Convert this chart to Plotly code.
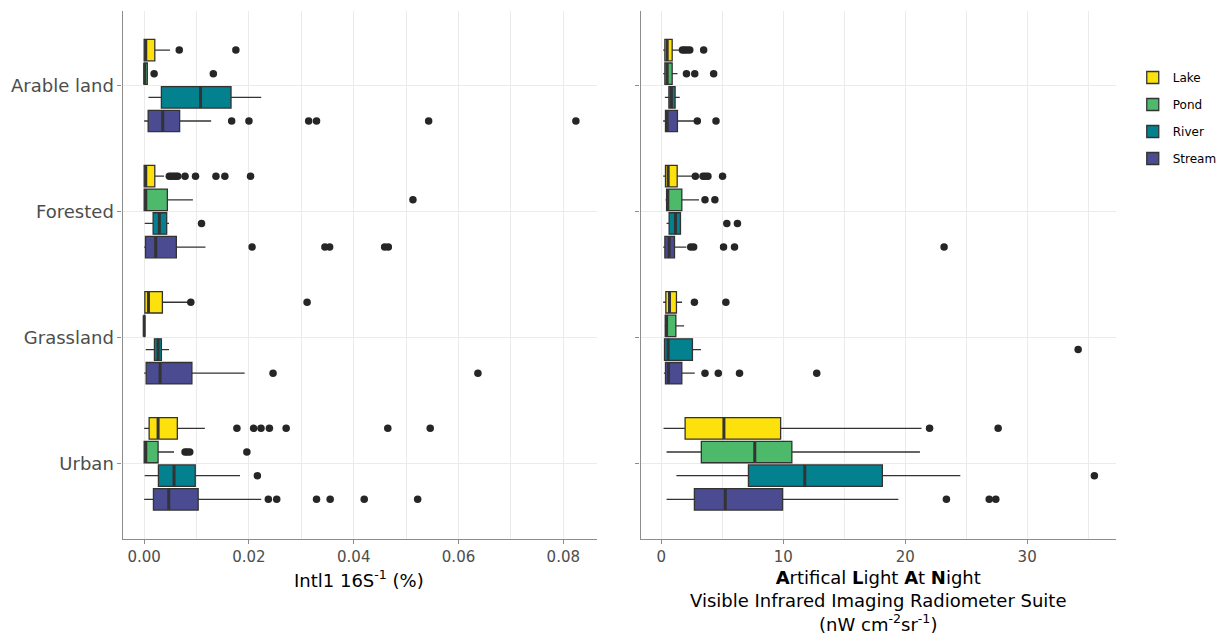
import plotly.graph_objects as go

# page is 1230x642; the html body adds an 8px margin, so the figure is sized to fit inside it
PAGE_W, PAGE_H = 1230, 642
OFF = 8
W, H = PAGE_W - 2 * OFF, PAGE_H - 2 * OFF

categories = ["Arable land", "Forested", "Grassland", "Urban"]
series = ["Lake", "Pond", "River", "Stream"]
colors = {"Lake": "#FDE10C", "Pond": "#4DB96A", "River": "#03818F", "Stream": "#4A4B91"}

# ---- Left panel: Intl1 16S-1 (%) ----
intl_q1 = {"Lake": [0, 0, 0.00013, 0.00095], "Pond": [0, 0, 0, 0],
           "River": [0.00329, 0.00171, 0.00196, 0.00272], "Stream": [0.00076, 0.00025, 0.00038, 0.00177]}
intl_med = {"Lake": [0.0003, 0.0003, 0.00082, 0.00266], "Pond": [0.0001, 0.0003, 0.0, 0.0003],
            "River": [0.01076, 0.0029, 0.00266, 0.0057], "Stream": [0.00354, 0.0022, 0.00304, 0.00469]}
intl_q3 = {"Lake": [0.00203, 0.00203, 0.00348, 0.00633], "Pond": [0.0006, 0.00443, 0.0001, 0.00266],
           "River": [0.01658, 0.0043, 0.00329, 0.00975], "Stream": [0.00677, 0.00614, 0.00911, 0.01031]}
intl_lo = {"Lake": [0, 0, 0, 0], "Pond": [0, 0, 0, 0],
           "River": [0.00082, 0.0001, 0.0003, 0.0001], "Stream": [0, 0, 0, 0]}
intl_hi = {"Lake": [0.00494, 0.0038, 0.0085, 0.01158], "Pond": [0.0006, 0.0093, 0.0001, 0.0057],
           "River": [0.02234, 0.00475, 0.00475, 0.01829], "Stream": [0.01278, 0.0117, 0.01918, 0.02234]}
intl_out = {
    "Lake": [[0.0067, 0.0175],
             [0.0048, 0.0052, 0.0056, 0.006, 0.0064, 0.0078, 0.0098, 0.0137, 0.0154, 0.0203],
             [0.0089, 0.0311],
             [0.0177, 0.0209, 0.0223, 0.0239, 0.0271, 0.0465, 0.0546]],
    "Pond": [[0.0019, 0.0132], [0.0513], [], [0.0078, 0.0082, 0.0087, 0.0196]],
    "River": [[], [0.01095], [], [0.0216]],
    "Stream": [[0.0167, 0.0200, 0.0314, 0.0329, 0.0543, 0.0824],
               [0.0206, 0.0345, 0.0354, 0.0459, 0.0466],
               [0.0246, 0.0637],
               [0.0237, 0.0253, 0.0329, 0.0355, 0.0420, 0.0522]],
}

# ---- Right panel: ALAN (nW cm-2 sr-1) ----
alan_q1 = {"Lake": [0.30, 0.35, 0.38, 1.96], "Pond": [0.30, 0.44, 0.33, 3.29],
           "River": [0.63, 0.65, 0.27, 7.15], "Stream": [0.35, 0.30, 0.35, 2.72]}
alan_med = {"Lake": [0.49, 0.57, 0.68, 5.14], "Pond": [0.49, 0.54, 0.44, 7.67],
            "River": [0.84, 1.17, 0.57, 11.77], "Stream": [0.49, 0.65, 0.60, 5.25]}
alan_q3 = {"Lake": [0.90, 1.31, 1.25, 9.79], "Pond": [0.90, 1.69, 1.20, 10.71],
           "River": [1.14, 1.58, 2.56, 18.13], "Stream": [1.33, 1.09, 1.69, 9.95]}
alan_lo = {"Lake": [0.16, 0.16, 0.16, 0.19], "Pond": [0.16, 0.35, 0.27, 0.44],
           "River": [0.30, 0.44, 0.27, 1.25], "Stream": [0.16, 0.16, 0.22, 0.44]}
alan_hi = {"Lake": [1.52, 2.61, 1.71, 21.34], "Pond": [1.33, 3.10, 1.88, 21.21],
           "River": [1.52, 1.58, 3.26, 24.52], "Stream": [2.70, 2.07, 2.75, 19.44]}
alan_out = {
    "Lake": [[1.74, 1.93, 2.12, 2.34, 3.48], [2.80, 3.43, 3.62, 3.83, 5.03], [2.72, 5.30], [22.0, 27.62]],
    "Pond": [[2.07, 2.75, 4.30], [3.59, 4.40], [], []],
    "River": [[], [5.38, 6.25], [34.18], [35.51]],
    "Stream": [[2.96, 4.49], [2.42, 2.66, 5.11, 6.01, 23.19], [3.59, 4.68, 6.42, 12.75], [23.38, 26.89, 27.43]],
}

FONT = "DejaVu Sans"
EDGE = "#333333"
DODGE = 0.75
SLOT = DODGE / len(series)
BOXW = 0.17

fig = go.Figure()


def pos(ci, si):
    return ci + (si - (len(series) - 1) / 2) * SLOT


def add_panel(q1, med, q3, lo, hi, out, xa, ya, legend):
    for si, s in enumerate(series):
        ys = [pos(ci, si) for ci in range(len(categories))]
        fig.add_trace(go.Box(
            name=s, orientation="h", y=ys, q1=q1[s], median=med[s], q3=q3[s],
            lowerfence=lo[s], upperfence=hi[s], width=BOXW, whiskerwidth=0,
            fillcolor=colors[s], line=dict(color=EDGE, width=1.3), boxpoints=False,
            xaxis=xa, yaxis=ya, showlegend=legend, legendgroup=s,
        ))
        mx, my = [], []
        for ci in range(len(categories)):
            mx += [med[s][ci], med[s][ci], None]
            my += [ys[ci] - BOXW / 2, ys[ci] + BOXW / 2, None]
        fig.add_trace(go.Scatter(x=mx, y=my, mode="lines", line=dict(color=EDGE, width=3),
                                 xaxis=xa, yaxis=ya, showlegend=False, hoverinfo="skip"))
        ox, oy = [], []
        for ci in range(len(categories)):
            for v in out[s][ci]:
                ox.append(v)
                oy.append(ys[ci])
        fig.add_trace(go.Scatter(x=ox, y=oy, mode="markers",
                                 marker=dict(color="#262626", size=7.5),
                                 xaxis=xa, yaxis=ya, showlegend=False))


add_panel(intl_q1, intl_med, intl_q3, intl_lo, intl_hi, intl_out, "x", "y", True)
add_panel(alan_q1, alan_med, alan_q3, alan_lo, alan_hi, alan_out, "x2", "y2", False)


def px_x(p):
    return (p / 0.995 + 0.2 - OFF) / W


def px_y(p):
    return 1 - (p + 1 - OFF) / H


grid = "#EBEBEB"
axline = "#8C8C8C"
tickfont = dict(family=FONT, size=15, color="#4D4D4D")
yrange = [3.596, -0.591]

common_x = dict(showline=True, linecolor=axline, linewidth=1.3, ticks="outside", ticklen=4,
                tickcolor=axline, tickfont=tickfont, showgrid=True, gridcolor=grid, gridwidth=1.3,
                zeroline=False, automargin=False)
common_y = dict(showline=True, linecolor=axline, linewidth=1.3, ticks="outside", ticklen=4,
                tickcolor=axline, showgrid=True, gridcolor=grid, gridwidth=1.3, zeroline=False,
                range=yrange, tickmode="array", tickvals=list(range(len(categories))),
                automargin=False)

fig.update_layout(
    width=W, height=H, margin=dict(l=0, r=0, t=0, b=0),
    paper_bgcolor="white", plot_bgcolor="white",
    font=dict(family=FONT, color="#000000"),
    xaxis=dict(domain=[px_x(123), px_x(600)], range=[-0.00412, 0.0864],
               tickvals=[0, 0.02, 0.04, 0.06, 0.08], ticktext=["0.00", "0.02", "0.04", "0.06", "0.08"],
               minor=dict(tickvals=[0.01, 0.03, 0.05, 0.07], showgrid=True, gridcolor=grid, gridwidth=1.1),
               anchor="y", **common_x),
    yaxis=dict(domain=[px_y(538), px_y(10)], anchor="x", ticktext=categories,
               tickfont=dict(family=FONT, size=18, color="#4D4D4D"), **common_y),
    xaxis2=dict(domain=[px_x(644), px_x(1122)], range=[-1.69, 37.27],
                tickvals=[0, 10, 20, 30],
                minor=dict(tickvals=[5, 15, 25, 35], showgrid=True, gridcolor=grid, gridwidth=1.1),
                anchor="y2", **common_x),
    yaxis2=dict(domain=[px_y(538), px_y(10)], anchor="x2", showticklabels=False, **common_y),
    legend=dict(x=px_x(1139), y=px_y(62), xanchor="left", yanchor="top",
                font=dict(family=FONT, size=12, color="#000000"), tracegroupgap=8,
                bgcolor="rgba(0,0,0,0)"),
    showlegend=True,
)

fig.add_annotation(x=px_x(361), y=px_y(578), xref="paper", yref="paper", showarrow=False,
                   xanchor="center", yanchor="middle",
                   text="Intl1 16S<sup>-1</sup> (%)", font=dict(family=FONT, size=18, color="#000000"))
fig.add_annotation(x=px_x(883), y=px_y(600), xref="paper", yref="paper", showarrow=False,
                   xanchor="center", yanchor="middle",
                   text="<b>A</b>rtifical <b>L</b>ight <b>A</b>t <b>N</b>ight<br>"
                        "Visible Infrared Imaging Radiometer Suite<br>(nW cm<sup>-2</sup>sr<sup>-1</sup>)",
                   font=dict(family=FONT, size=18, color="#000000"))

fig.write_html("out.html")
